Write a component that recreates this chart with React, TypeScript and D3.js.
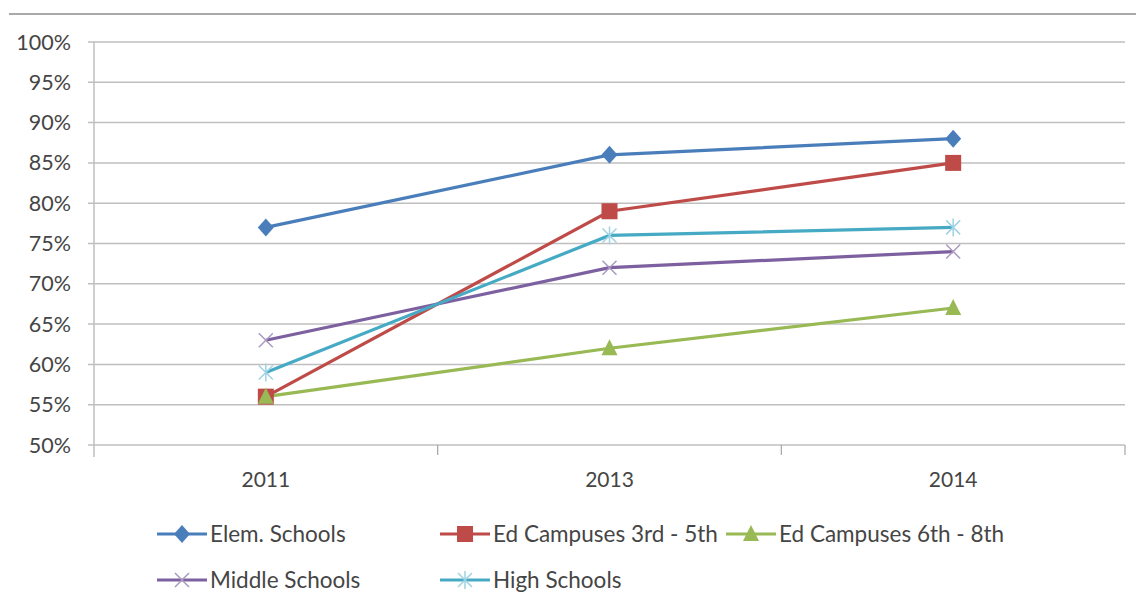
import React from "react";
import * as d3 from "d3";

const categories = ["2011", "2013", "2014"];
const seriesNames = ["Elem. Schools", "Ed Campuses 3rd - 5th", "Ed Campuses 6th - 8th", "Middle Schools", "High Schools"];
const elem = [77, 86, 88];
const ed35 = [56, 79, 85];
const ed68 = [56, 62, 67];
const middle = [63, 72, 74];
const high = [59, 76, 77];
const yTicks = [50, 55, 60, 65, 70, 75, 80, 85, 90, 95, 100];

const colors = ["#4a7ebb", "#be4b48", "#98b954", "#7d60a0", "#46aac5"];
const markers = ["diamond", "square", "triangle", "x", "star"];

const W = 1136, H = 604;
const left = 94, right = 1125, top = 42, bottom = 445;
const font = "Lato, 'Open Sans', sans-serif";

function Marker({ type, x, y, color }: { type: string; x: number; y: number; color: string }) {
  const s = 8;
  if (type === "diamond") return <path d={`M${x},${y - s - 1}L${x + s},${y}L${x},${y + s + 1}L${x - s},${y}Z`} fill={color} />;
  if (type === "square") return <rect x={x - 8} y={y - 8} width={16} height={16} fill={color} />;
  if (type === "triangle") return <path d={`M${x},${y - 9}L${x + 8},${y + 7}L${x - 8},${y + 7}Z`} fill={color} />;
  if (type === "x")
    return <path d={`M${x - 7},${y - 7}L${x + 7},${y + 7}M${x - 7},${y + 7}L${x + 7},${y - 7}`} stroke="#a99bc0" strokeWidth={1.5} />;
  return (
    <path
      d={`M${x - 7},${y - 7}L${x + 7},${y + 7}M${x - 7},${y + 7}L${x + 7},${y - 7}M${x},${y - 9}L${x},${y + 9}`}
      stroke="#9fd3e3"
      strokeWidth={1.5}
    />
  );
}

export default function App() {
  const data = [elem, ed35, ed68, middle, high];
  const x = d3.scaleBand<string>().domain(categories).range([left, right]);
  const y = d3.scaleLinear().domain([50, 100]).range([bottom, top]);
  const line = d3
    .line<number>()
    .x((_, i) => (x(categories[i]) as number) + x.bandwidth() / 2)
    .y((d) => y(d));
  const bandEdges = categories.map((c) => x(c) as number).concat([right]);

  const legendItems = [
    { i: 0, lx: 157, ly: 534 },
    { i: 1, lx: 440, ly: 534 },
    { i: 2, lx: 726, ly: 534 },
    { i: 3, lx: 157, ly: 580 },
    { i: 4, lx: 440, ly: 580 },
  ];

  return (
    <svg width={W} height={H} style={{ position: "absolute", left: 0, top: 0, background: "#fff" }}>
      <rect width={W} height={H} fill="#fff" />
      <line x1={9} x2={W} y1={14} y2={14} stroke="#8c8c8c" strokeWidth={1.5} />
      {yTicks.map((t) => (
        <g key={t}>
          <line x1={left - 6} x2={right} y1={y(t)} y2={y(t)} stroke="#bfbfbf" strokeWidth={1.5} />
          <text x={71} y={y(t)} dy="0.35em" textAnchor="end" fontFamily={font} fontSize={21.5} fill="#454545">
            {t}%
          </text>
        </g>
      ))}
      <line x1={left} x2={left} y1={top} y2={bottom + 12} stroke="#bfbfbf" strokeWidth={1.5} />
      {bandEdges.slice(1).map((bx, i) => (
        <line key={i} x1={bx} x2={bx} y1={bottom} y2={bottom + 10} stroke="#a6a6a6" strokeWidth={1.2} />
      ))}
      {categories.map((c) => (
        <text key={c} x={(x(c) as number) + x.bandwidth() / 2} y={487} textAnchor="middle" fontFamily={font} fontSize={21} fill="#454545">
          {c}
        </text>
      ))}
      {data.map((vals, si) => (
        <path key={si} d={line(vals) || ""} fill="none" stroke={colors[si]} strokeWidth={3.2} />
      ))}
      {data.map((vals, si) =>
        vals.map((v, i) => (
          <Marker key={`${si}-${i}`} type={markers[si]} x={(x(categories[i]) as number) + x.bandwidth() / 2} y={y(v)} color={colors[si]} />
        ))
      )}
      {legendItems.map(({ i, lx, ly }) => (
        <g key={i}>
          <line x1={lx} x2={lx + 50} y1={ly} y2={ly} stroke={colors[i]} strokeWidth={3.2} />
          <Marker type={markers[i]} x={lx + 25} y={ly} color={colors[i]} />
          <text x={lx + 53} y={ly} dy="0.35em" fontFamily={font} fontSize={22.5} fill="#454545">
            {seriesNames[i]}
          </text>
        </g>
      ))}
    </svg>
  );
}
